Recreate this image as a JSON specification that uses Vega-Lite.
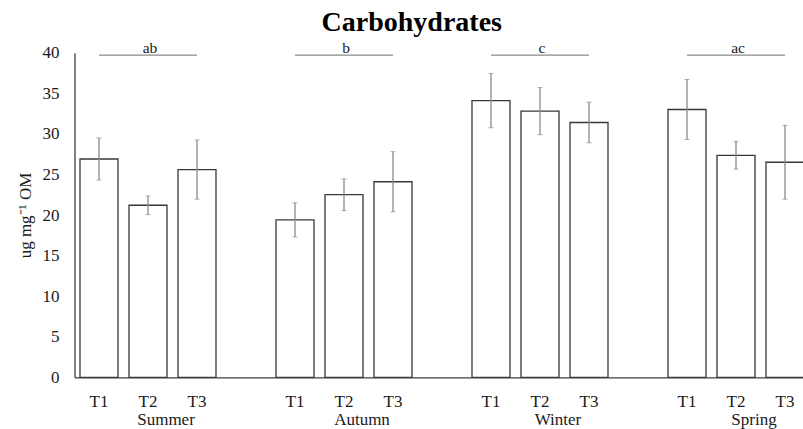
{
  "$schema": "https://vega.github.io/schema/vega-lite/v6.json",
  "autosize": "none",
  "width": 728.5,
  "height": 324.6,
  "padding": {"left": 74.5, "top": 52.7, "right": 0, "bottom": 51.7},
  "background": "white",
  "config": {
    "view": {"stroke": null},
    "font": "Liberation Serif"
  },
  "title": {
    "text": "Carbohydrates",
    "font": "Liberation Serif",
    "fontSize": 28,
    "fontWeight": "bold",
    "color": "#000000",
    "anchor": "middle",
    "frame": "group",
    "dx": -27,
    "baseline": "alphabetic",
    "offset": 21,
    "dy": 39
  },
  "datasets": {
    "bars": [
      {"cat": "Summer|T1", "season": "Summer", "treatment": "T1", "mean": 26.9, "sd": 2.6},
      {"cat": "Summer|T2", "season": "Summer", "treatment": "T2", "mean": 21.2, "sd": 1.15},
      {"cat": "Summer|T3", "season": "Summer", "treatment": "T3", "mean": 25.6, "sd": 3.65},
      {"cat": "Autumn|T1", "season": "Autumn", "treatment": "T1", "mean": 19.4, "sd": 2.1},
      {"cat": "Autumn|T2", "season": "Autumn", "treatment": "T2", "mean": 22.5, "sd": 1.95},
      {"cat": "Autumn|T3", "season": "Autumn", "treatment": "T3", "mean": 24.1, "sd": 3.7},
      {"cat": "Winter|T1", "season": "Winter", "treatment": "T1", "mean": 34.1, "sd": 3.35},
      {"cat": "Winter|T2", "season": "Winter", "treatment": "T2", "mean": 32.8, "sd": 2.9},
      {"cat": "Winter|T3", "season": "Winter", "treatment": "T3", "mean": 31.4, "sd": 2.5},
      {"cat": "Spring|T1", "season": "Spring", "treatment": "T1", "mean": 33.0, "sd": 3.7},
      {"cat": "Spring|T2", "season": "Spring", "treatment": "T2", "mean": 27.35, "sd": 1.7},
      {"cat": "Spring|T3", "season": "Spring", "treatment": "T3", "mean": 26.5, "sd": 4.55}
    ],
    "groups": [
      {"season": "Summer", "from": "Summer|T1", "to": "Summer|T3", "mid": "Summer|T2", "letter": "ab", "level": 39.7},
      {"season": "Autumn", "from": "Autumn|T1", "to": "Autumn|T3", "mid": "Autumn|T2", "letter": "b", "level": 39.7},
      {"season": "Winter", "from": "Winter|T1", "to": "Winter|T3", "mid": "Winter|T2", "letter": "c", "level": 39.7},
      {"season": "Spring", "from": "Spring|T1", "to": "Spring|T3", "mid": "Spring|T2", "letter": "ac", "level": 39.7}
    ]
  },
  "encoding": {
    "x": {
      "field": "cat",
      "type": "nominal",
      "sort": null,
      "scale": {
        "domain": ["Summer|T1", "Summer|T2", "Summer|T3", "Summer|", "Autumn|T1", "Autumn|T2", "Autumn|T3", "Autumn|", "Winter|T1", "Winter|T2", "Winter|T3", "Winter|", "Spring|T1", "Spring|T2", "Spring|T3"],
        "range": [0, 735],
        "paddingInner": 0.2245,
        "paddingOuter": 0.11225
      },
      "axis": {
        "title": null,
        "labelExpr": "split(datum.value, '|')[1]",
        "labelAngle": 0,
        "labelFont": "Liberation Serif",
        "labelFontSize": 17,
        "labelColor": "#1a1a1a",
        "labelBaseline": "alphabetic",
        "labelPadding": 29.4,
        "ticks": false,
        "tickSize": 0,
        "domainColor": "#404040",
        "domainWidth": 1.3,
        "grid": false
      }
    }
  },
  "layer": [
    {
      "data": {"name": "bars"},
      "mark": {"type": "bar", "fill": "white", "stroke": "#383838", "strokeWidth": 1.3},
      "encoding": {
        "y": {
          "field": "mean",
          "type": "quantitative",
          "title": "ug mg⁻¹ OM",
          "scale": {"domain": [0, 40], "nice": false},
          "axis": {
            "values": [0, 5, 10, 15, 20, 25, 30, 35, 40],
            "titleFont": "Liberation Serif",
            "titleFontSize": 17,
            "titleFontWeight": "normal",
            "titleColor": "#1a1a1a",
            "titleAngle": 270,
            "titleX": -49.5,
            "titleY": 162.3,
            "titleAlign": "center",
            "titleBaseline": "middle",
            "labelFont": "Liberation Serif",
            "labelFontSize": 17,
            "labelColor": "#1a1a1a",
            "labelPadding": 15.5,
            "ticks": false,
            "tickSize": 0,
            "grid": false,
            "domainColor": "#404040",
            "domainWidth": 1.3
          }
        }
      }
    },
    {
      "data": {"name": "bars"},
      "mark": {"type": "errorbar", "ticks": {"size": 5, "color": "#8a8a8a", "strokeWidth": 1.3}, "rule": {"color": "#8a8a8a", "strokeWidth": 1.3}},
      "encoding": {
        "y": {"field": "mean", "type": "quantitative", "title": "ug mg⁻¹ OM"},
        "yError": {"field": "sd"}
      }
    },
    {
      "data": {"name": "groups"},
      "mark": {"type": "rule", "color": "#8a8a8a", "strokeWidth": 1.3},
      "encoding": {
        "x": {"field": "from", "type": "nominal"},
        "x2": {"field": "to"},
        "y": {"field": "level", "type": "quantitative", "title": "ug mg⁻¹ OM"}
      }
    },
    {
      "data": {"name": "groups"},
      "mark": {"type": "text", "font": "Liberation Serif", "fontSize": 15.5, "color": "#1a1a1a", "baseline": "alphabetic", "dy": -2.5, "dx": 2},
      "encoding": {
        "x": {"field": "mid", "type": "nominal"},
        "y": {"field": "level", "type": "quantitative", "title": "ug mg⁻¹ OM"},
        "text": {"field": "letter"}
      }
    },
    {
      "data": {"name": "groups"},
      "mark": {"type": "text", "font": "Liberation Serif", "fontSize": 17, "color": "#1a1a1a", "baseline": "alphabetic", "dy": 47.7, "dx": 18},
      "encoding": {
        "x": {"field": "mid", "type": "nominal"},
        "y": {"datum": 0, "type": "quantitative", "title": "ug mg⁻¹ OM"},
        "text": {"field": "season"}
      }
    }
  ]
}
